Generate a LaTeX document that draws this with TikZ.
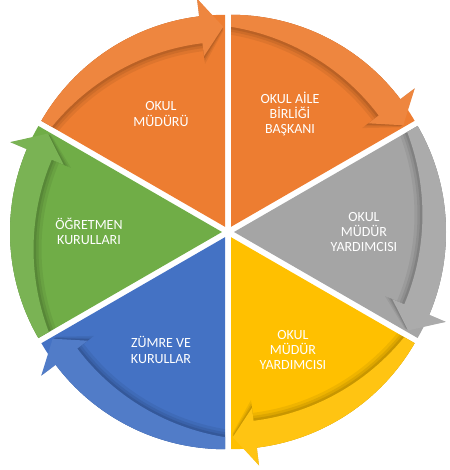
\documentclass[tikz,border=0pt]{standalone}
\usepackage{fontspec}
\setmainfont{Carlito}

\definecolor{orng}{HTML}{ED7D31}
\definecolor{gry}{HTML}{A5A5A5}
\definecolor{ylw}{HTML}{FFC000}
\definecolor{blu}{HTML}{4472C4}
\definecolor{grn}{HTML}{70AD47}

\begin{document}
\begin{tikzpicture}[x=1pt,y=1pt]
\tikzset{lbl/.style={text=white, align=center, font=\fontsize{14}{15.2}\selectfont}}
\useasboundingbox (-228,-238) rectangle (221,232);

% slices with their arrow bands, clockwise
\foreach \s/\c in {150/orng,90/orng,30/gry,-30/ylw,-90/blu,-150/grn}{
\begin{scope}[shift={(\s-30:6)}]
\fill[\c] (0,0) -- (\s:212) arc[start angle=\s, delta angle=-60, radius=212] -- cycle;
% soft shadow under the band
\foreach \d/\o in {8/0.12,5/0.16,2.5/0.22}{
\fill[\c!50!black, opacity=\o] (\s:212) arc[start angle=\s, end angle=\s-53, radius=212]
  -- (\s-53:230) -- (\s-59.5:200-0.5*\d) -- (\s-53:172-\d) -- (\s-53:185-\d)
  -- plot[domain=\s-53:\s, samples=30] (\x:{185-\d+15*((\x-(\s)+53)/53)^2}) -- cycle;
}
% band
\fill[\c!93!white] (\s:212) arc[start angle=\s, end angle=\s-53, radius=212]
  -- (\s-53:230) -- (\s-59.5:200) -- (\s-53:172) -- (\s-53:185)
  -- plot[domain=\s-53:\s, samples=30] (\x:{185+15*((\x-(\s)+53)/53)^2}) -- cycle;
\end{scope}
}

\node[lbl] (mudur) at (-67,118) {OKUL\\MÜDÜRÜ};
\node[lbl] (aile) at (62,118) {OKUL AİLE\\BİRLİĞİ\\BAŞKANI};
\node[lbl] (yrd1) at (136,0) {OKUL\\MÜDÜR\\YARDIMCISI};
\node[lbl] (yrd2) at (65,-118) {OKUL\\MÜDÜR\\YARDIMCISI};
\node[lbl] (zumre) at (-67,-118) {ZÜMRE VE\\KURULLAR};
\node[lbl] (ogrt) at (-139,1) {ÖĞRETMEN\\KURULLARI};

\end{tikzpicture}
\end{document}
